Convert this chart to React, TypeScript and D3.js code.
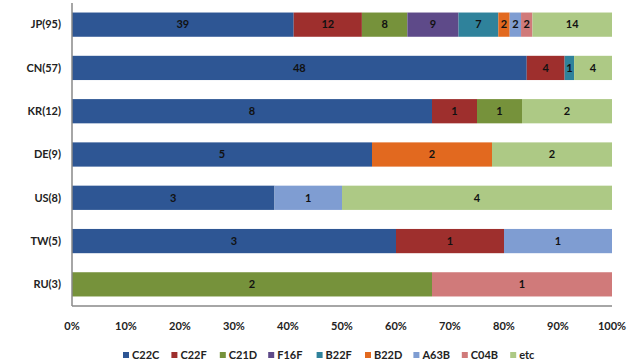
import { useRef, useEffect } from 'react'
import * as d3 from 'd3'

const countries = ['JP(95)', 'CN(57)', 'KR(12)', 'DE(9)', 'US(8)', 'TW(5)', 'RU(3)']
const seriesNames = ['C22C', 'C22F', 'C21D', 'F16F', 'B22F', 'B22D', 'A63B', 'C04B', 'etc']
const seriesColors = ['#2e5694', '#9e2f2d', '#76923b', '#5e4a89', '#2f829b', '#e2691f', '#7f9dd2', '#d07a7a', '#adc985']
// counts per series, one entry per country (same order as countries)
const C22C = [39, 48, 8, 5, 3, 3, 0]
const C22F = [12, 4, 1, 0, 0, 1, 0]
const C21D = [8, 0, 1, 0, 0, 0, 2]
const F16F = [9, 0, 0, 0, 0, 0, 0]
const B22F = [7, 1, 0, 0, 0, 0, 0]
const B22D = [2, 0, 0, 2, 0, 0, 0]
const A63B = [2, 0, 0, 0, 1, 1, 0]
const C04B = [2, 0, 0, 0, 0, 0, 1]
const etc = [14, 4, 2, 2, 4, 0, 0]
const xTicks = [0, 0.1, 0.2, 0.3, 0.4, 0.5, 0.6, 0.7, 0.8, 0.9, 1]

function App() {
  const ref = useRef<SVGSVGElement>(null)
  useEffect(() => {
    const svg = d3.select(ref.current)
    svg.selectAll('*').remove()
    const left = 72, right = 612, top = 3, bottom = 306
    const font = 'Lato, "Open Sans", sans-serif'

    const values = [C22C, C22F, C21D, F16F, B22F, B22D, A63B, C04B, etc]
    const rows = countries.map((c, i) => {
      const row: any = { country: c }
      seriesNames.forEach((s, j) => { row[s] = values[j][i] })
      return row
    })
    const stack = d3.stack<any>().keys(seriesNames).offset(d3.stackOffsetExpand)
    const layers = stack(rows)

    const x = d3.scaleLinear().domain([0, 1]).range([left, right])
    const y = d3.scaleBand().domain(countries).range([top, bottom]).paddingInner(0.44).paddingOuter(0.22)

    const g = svg.append('g')
    layers.forEach((layer, j) => {
      g.selectAll(null)
        .data(layer.filter(d => d[1] - d[0] > 0))
        .enter()
        .append('rect')
        .attr('x', d => x(d[0]))
        .attr('y', d => y(d.data.country)!)
        .attr('width', d => x(d[1]) - x(d[0]))
        .attr('height', y.bandwidth())
        .attr('fill', seriesColors[j])
      g.selectAll(null)
        .data(layer.filter(d => d[1] - d[0] > 0))
        .enter()
        .append('text')
        .attr('x', d => (x(d[0]) + x(d[1])) / 2)
        .attr('y', d => y(d.data.country)! + y.bandwidth() / 2)
        .attr('dy', '0.35em')
        .attr('text-anchor', 'middle')
        .style('font', `bold 11px ${font}`)
        .attr('fill', '#111')
        .text(d => d.data[seriesNames[j]])
    })

    // axis lines
    svg.append('line').attr('x1', left).attr('x2', left).attr('y1', top).attr('y2', bottom)
      .attr('stroke', '#888').attr('stroke-width', 1.5)
    svg.append('line').attr('x1', left).attr('x2', right).attr('y1', bottom).attr('y2', bottom)
      .attr('stroke', '#888').attr('stroke-width', 1.5)

    svg.selectAll(null).data(countries).enter().append('text')
      .attr('x', 61)
      .attr('y', d => y(d)! + y.bandwidth() / 2)
      .attr('dy', '0.35em')
      .attr('text-anchor', 'end')
      .style('font', `bold 11px ${font}`)
      .attr('fill', '#222')
      .text(d => d)

    svg.selectAll(null).data(xTicks).enter().append('text')
      .attr('x', d => x(d))
      .attr('y', 326)
      .attr('dy', '0.35em')
      .attr('text-anchor', 'middle')
      .style('font', `bold 11px ${font}`)
      .attr('fill', '#222')
      .text(d => d3.format('.0%')(d))

    const legend = svg.selectAll(null).data(seriesNames).enter().append('g')
      .attr('transform', (d, i) => `translate(${123 + i * 48.4},355)`)
    legend.append('rect').attr('x', 0).attr('y', -3).attr('width', 6).attr('height', 6)
      .attr('fill', (d, i) => seriesColors[i])
    legend.append('text').attr('x', 9).attr('dy', '0.35em')
      .style('font', `bold 11px ${font}`).attr('fill', '#222').text(d => d)
  }, [])

  return (
    <svg ref={ref} width={637} height={362} style={{ position: 'absolute', left: 0, top: 0, background: '#fff' }} />
  )
}

export default App
